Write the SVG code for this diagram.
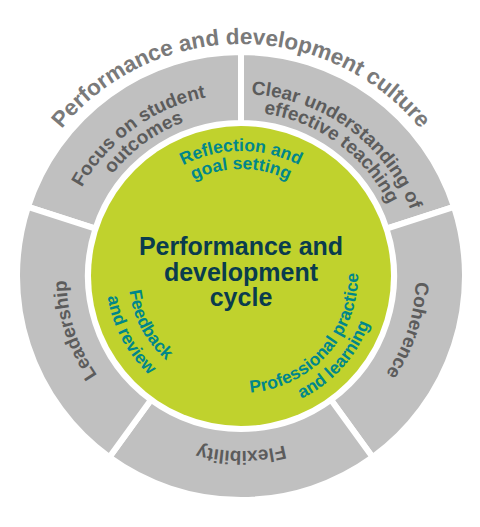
<svg xmlns="http://www.w3.org/2000/svg" xmlns:xlink="http://www.w3.org/1999/xlink" width="480" height="527" viewBox="0 0 480 527">
<style>
  .seg { fill: #c0c0c0; stroke: #ffffff; stroke-width: 6; stroke-linejoin: miter; }
  .lbl { font-family: "Liberation Sans", Arial, sans-serif; font-weight: bold; font-size: 19px; fill: #5c5c5c; }
  .in { font-family: "Liberation Sans", Arial, sans-serif; font-weight: bold; font-size: 17.5px; fill: #00878a; }
  .ttl { font-family: "Liberation Sans", Arial, sans-serif; font-weight: bold; font-size: 22.5px; fill: #7a7a7a; }
  .ctr { font-family: "Liberation Sans", Arial, sans-serif; font-weight: bold; font-size: 25px; fill: #0a3c4d; }
</style>
<defs>
  <path id="pTitle" d="M241,508 A232,232 0 0 1 241,44 A232,232 0 0 1 241,508"/>
  <path id="pFocus1" d="M347.98,423.24 A182,182 0 0 1 134.02,128.76 A182,182 0 0 1 347.98,423.24"/>
  <path id="pFocus2" d="M337.40,408.68 A164,164 0 0 1 144.60,143.32 A164,164 0 0 1 337.40,408.68"/>
  <path id="pClear1" d="M134.02,423.24 A182,182 0 0 1 347.98,128.76 A182,182 0 0 1 134.02,423.24"/>
  <path id="pClear2" d="M144.60,408.68 A164,164 0 0 1 337.40,143.32 A164,164 0 0 1 144.60,408.68"/>
  <path id="pLead" d="M407.43,221.92 A175,175 0 0 1 74.57,330.08 A175,175 0 0 1 407.43,221.92"/>
  <path id="pFlex" d="M241,101 A175,175 0 0 1 241,451 A175,175 0 0 1 241,101"/>
  <path id="pCoh" d="M74.57,221.92 A175,175 0 0 1 407.43,330.08 A175,175 0 0 1 74.57,221.92"/>
  <path id="pRef1" d="M241,401 A125,125 0 0 1 241,151 A125,125 0 0 1 241,401"/>
  <path id="pRef2" d="M241,383 A107,107 0 0 1 241,169 A107,107 0 0 1 241,383"/>
  <path id="pFb1" d="M340.77,222.95 A113,113 0 0 0 141.23,329.05 A113,113 0 0 0 340.77,222.95"/>
  <path id="pFb2" d="M360.20,212.62 A135,135 0 0 0 121.80,339.38 A135,135 0 0 0 360.20,212.62"/>
  <path id="pPro1" d="M154.05,197.71 A117,117 0 0 0 327.95,354.29 A117,117 0 0 0 154.05,197.71"/>
  <path id="pPro2" d="M139.19,184.33 A137,137 0 0 0 342.81,367.67 A137,137 0 0 0 139.19,184.33"/>
</defs>
<rect x="0" y="0" width="480" height="527" fill="#ffffff"/>

<g id="culture-title">
  <text class="ttl" text-anchor="middle"><textPath xlink:href="#pTitle" href="#pTitle" startOffset="50%">Performance and development culture</textPath></text>
</g>

<g id="seg-focus">
  <path class="seg" d="M27.96,206.78 A224,224 0 0 1 241,52 L241,123 A153,153 0 0 0 95.49,228.72 Z"/>
  <text class="lbl" text-anchor="middle"><textPath xlink:href="#pFocus1" href="#pFocus1" startOffset="50%">Focus on student</textPath></text>
  <text class="lbl" text-anchor="middle"><textPath xlink:href="#pFocus2" href="#pFocus2" startOffset="50%">outcomes</textPath></text>
</g>

<g id="seg-clear">
  <path class="seg" d="M241,52 A224,224 0 0 1 454.04,206.78 L386.51,228.72 A153,153 0 0 0 241,123 Z"/>
  <text class="lbl" text-anchor="middle"><textPath xlink:href="#pClear1" href="#pClear1" startOffset="50%">Clear understanding of</textPath></text>
  <text class="lbl" text-anchor="middle"><textPath xlink:href="#pClear2" href="#pClear2" startOffset="50%">effective teaching</textPath></text>
</g>

<g id="seg-coherence">
  <path class="seg" d="M454.04,206.78 A224,224 0 0 1 372.66,457.22 L330.93,399.78 A153,153 0 0 0 386.51,228.72 Z"/>
  <text class="lbl" text-anchor="middle"><textPath xlink:href="#pCoh" href="#pCoh" startOffset="50%">Coherence</textPath></text>
</g>

<g id="seg-flexibility">
  <path class="seg" d="M372.66,457.22 A224,224 0 0 1 109.34,457.22 L151.07,399.78 A153,153 0 0 0 330.93,399.78 Z"/>
  <text class="lbl" text-anchor="middle"><textPath xlink:href="#pFlex" href="#pFlex" startOffset="50%">Flexibility</textPath></text>
</g>

<g id="seg-leadership">
  <path class="seg" d="M109.34,457.22 A224,224 0 0 1 27.96,206.78 L95.49,228.72 A153,153 0 0 0 151.07,399.78 Z"/>
  <text class="lbl" text-anchor="middle"><textPath xlink:href="#pLead" href="#pLead" startOffset="50%">Leadership</textPath></text>
</g>

<g id="cycle">
  <circle cx="241" cy="276" r="150" fill="#c0d22d"/>
  <text class="ctr" text-anchor="middle" x="241" y="255">Performance and</text>
  <text class="ctr" text-anchor="middle" x="241" y="281">development</text>
  <text class="ctr" text-anchor="middle" x="241" y="306">cycle</text>
</g>

<g id="stage-reflection">
  <text class="in" text-anchor="middle"><textPath xlink:href="#pRef1" href="#pRef1" startOffset="50%">Reflection and</textPath></text>
  <text class="in" text-anchor="middle"><textPath xlink:href="#pRef2" href="#pRef2" startOffset="50%">goal setting</textPath></text>
</g>

<g id="stage-professional">
  <text class="in" text-anchor="middle"><textPath xlink:href="#pPro1" href="#pPro1" startOffset="50%">Professional practice</textPath></text>
  <text class="in" text-anchor="middle"><textPath xlink:href="#pPro2" href="#pPro2" startOffset="50%">and learning</textPath></text>
</g>

<g id="stage-feedback">
  <text class="in" text-anchor="middle"><textPath xlink:href="#pFb1" href="#pFb1" startOffset="50%">Feedback</textPath></text>
  <text class="in" text-anchor="middle"><textPath xlink:href="#pFb2" href="#pFb2" startOffset="50%">and review</textPath></text>
</g>

<g id="connectors"></g>
</svg>
